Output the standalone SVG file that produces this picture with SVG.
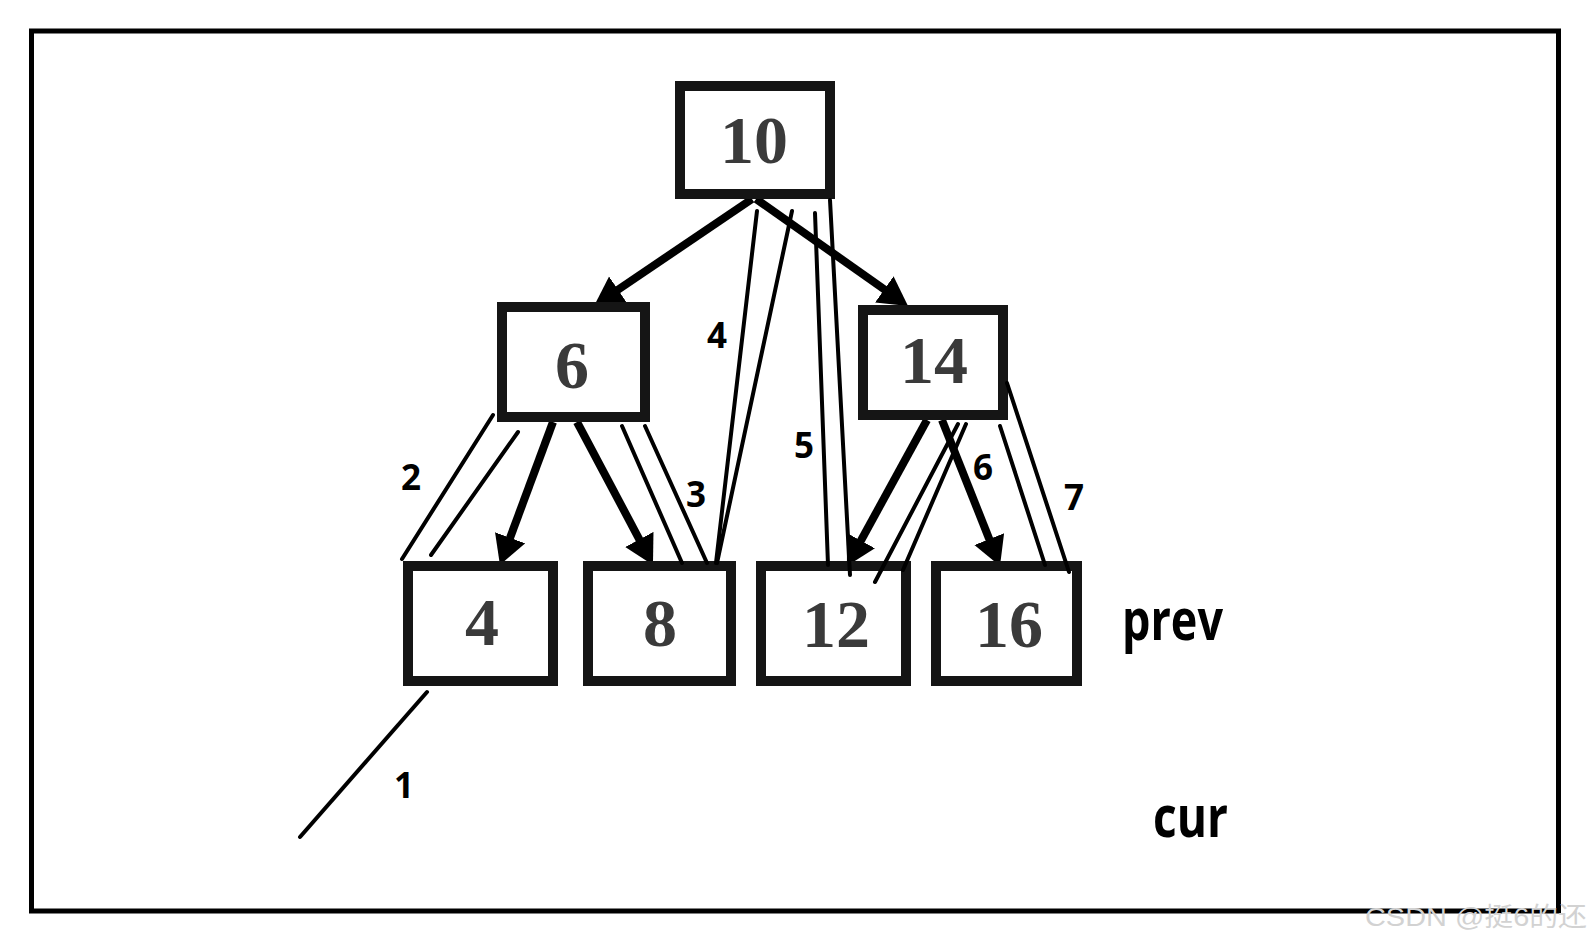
<svg xmlns="http://www.w3.org/2000/svg" width="1592" height="944" viewBox="0 0 1592 944">
<style>
.box{fill:#fff;stroke:#151515;stroke-width:10}
.val{font-family:"Liberation Serif",serif;font-weight:bold;font-size:68px;fill:#3a3a3a;text-anchor:middle}
.edge{stroke:#000;stroke-width:8;fill:none;marker-end:url(#ah)}
.trace{stroke:#000;stroke-width:4;stroke-linecap:round;fill:none}
.num{font-family:"Open Sans",sans-serif;font-weight:bold;font-size:35px;fill:#000;text-anchor:middle}
.lbl{font-family:"Open Sans",sans-serif;font-weight:bold;font-size:57px;fill:#000}
</style>
<defs>
<marker id="ah" markerUnits="userSpaceOnUse" markerWidth="34" markerHeight="34" refX="5" refY="16" orient="auto">
<path d="M0,0 L29,16 L0,32 z" fill="#000"/>
</marker>
</defs>
<rect width="1592" height="944" fill="#fff"/>
<rect x="31.5" y="31" width="1527" height="880" fill="none" stroke="#000" stroke-width="5"/>
<g id="connectors">
<line class="edge" x1="752" y1="199" x2="613.9" y2="292.5"/>
<line class="edge" x1="756" y1="199" x2="888.4" y2="292.2"/>
<line class="edge" x1="553" y1="422" x2="508.3" y2="542.5"/>
<line class="edge" x1="577" y1="422" x2="641.7" y2="543.8"/>
<line class="edge" x1="927" y1="420" x2="858.5" y2="545"/>
<line class="edge" x1="942" y1="420" x2="991.1" y2="543.7"/>
</g>
<g id="node-10"><rect class="box" x="680" y="86" width="150" height="108"/><text class="val" x="754" y="163">10</text></g>
<g id="node-6"><rect class="box" x="502" y="307" width="143" height="110"/><text class="val" x="572" y="388">6</text></g>
<g id="node-14"><rect class="box" x="863" y="310" width="140" height="105"/><text class="val" x="934" y="383">14</text></g>
<g id="node-4"><rect class="box" x="408" y="566" width="145" height="115"/><text class="val" x="482" y="645">4</text></g>
<g id="node-8"><rect class="box" x="588" y="566" width="143" height="115"/><text class="val" x="660" y="646">8</text></g>
<g id="node-12"><rect class="box" x="761" y="566" width="145" height="115"/><text class="val" x="836" y="647">12</text></g>
<g id="node-16"><rect class="box" x="936" y="566" width="141" height="115"/><text class="val" x="1009" y="647">16</text></g>
<g id="traces">
<line class="trace" x1="427" y1="692" x2="300" y2="837"/>
<line class="trace" x1="493" y1="415" x2="402" y2="559"/>
<line class="trace" x1="518" y1="432" x2="431" y2="555"/>
<line class="trace" x1="622" y1="426" x2="682" y2="563"/>
<line class="trace" x1="645" y1="426" x2="707" y2="563"/>
<line class="trace" x1="757" y1="211" x2="716" y2="563"/>
<line class="trace" x1="792" y1="211" x2="717" y2="563"/>
<line class="trace" x1="815" y1="213" x2="828" y2="565"/>
<line class="trace" x1="830" y1="200" x2="850" y2="575"/>
<line class="trace" x1="958" y1="424" x2="875" y2="582"/>
<line class="trace" x1="966" y1="424" x2="903" y2="570"/>
<line class="trace" x1="1000" y1="426" x2="1045" y2="565"/>
<line class="trace" x1="1007" y1="383" x2="1069" y2="572"/>
<text class="num" x="404" y="798">1</text>
<text class="num" x="411" y="490">2</text>
<text class="num" x="696" y="507">3</text>
<text class="num" x="717" y="348">4</text>
<text class="num" x="804" y="458">5</text>
<text class="num" x="983" y="480">6</text>
<text class="num" x="1074" y="510">7</text>
</g>
<text class="lbl" x="1122" y="640" textLength="101" lengthAdjust="spacingAndGlyphs">prev</text>
<text class="lbl" x="1153" y="837" textLength="75" lengthAdjust="spacingAndGlyphs">cur</text>
<text x="1365" y="926" font-family="'Liberation Sans','Noto Sans CJK SC',sans-serif" font-size="26" fill="#d2d2d2" textLength="222" lengthAdjust="spacingAndGlyphs">CSDN @挺6的还</text>
</svg>
